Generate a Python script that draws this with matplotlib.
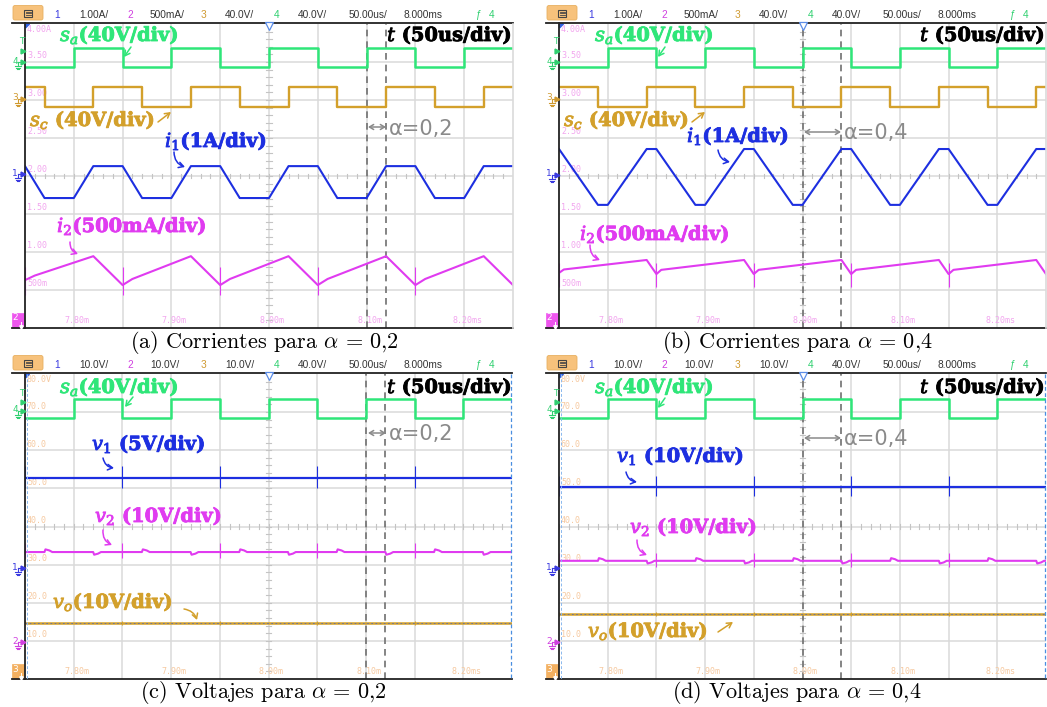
import matplotlib
matplotlib.use("Agg")
import matplotlib.pyplot as plt
import matplotlib.patheffects as pe
from matplotlib.patches import FancyBboxPatch, Rectangle

plt.rcParams["mathtext.fontset"] = "cm"

W, H = 1047, 707

# ---------------- time base: 50 us/div, centred on 8.000 ms ----------------
T_START, T_END = -250, 250
TIME_LABEL_T = [-200, -100, 0, 100, 200]
TIME_LABELS = ["7.80m", "7.90m", "8.00m", "8.10m", "8.20ms"]
TIMEBASE = "50.00us/"
DELAY = "8.000ms"

# on-screen scale read-outs (selected channel)
CURRENT_SCALE = ["4.00A", "3.50", "3.00", "2.50", "2.00", "1.50", "1.00", "500m"]
VOLTAGE_SCALE = ["80.0V", "70.0", "60.0", "50.0", "40.0", "30.0", "20.0", "10.0"]
HEADER_CURRENTS = ["1.00A/", "500mA/", "40.0V/", "40.0V/"]
HEADER_VOLTAGES = ["10.0V/", "10.0V/", "10.0V/", "40.0V/"]

# ---------------- switching edges (us) ----------------
SA_RISE = [-200, -100, 0, 100, 200]
SA_FALL = [-150, -50, 50, 150]
SC_RISE_02 = [-180, -80, 20, 120, 220]
SC_FALL_02 = [-230, -130, -30, 70, 170]
SC_RISE_04 = [-160, -60, 40, 140, 240]
SC_FALL_04 = [-210, -110, -10, 90, 190]
SPIKE_T = [-250, -150, -50, 50, 150]

# gate levels in screen divisions (low, high)
SA_LEVELS_I = (6.87, 7.37)
SC_LEVELS_I = (5.82, 6.34)
SA_LEVELS_V = (6.85, 7.35)

# ---------------- currents (screen divisions) ----------------
I1_02_T = [-250, -230, -200, -180, -150, -130, -100, -80, -50, -30, 0, 20,
           50, 70, 100, 120, 150, 170, 200, 220, 250]
I1_02_Y = [4.26, 3.42, 3.42, 4.26, 4.26, 3.42, 3.42, 4.26, 4.26, 3.42, 3.42,
           4.26, 4.26, 3.42, 3.42, 4.26, 4.26, 3.42, 3.42, 4.26, 4.26]
I1_04_T = [-250, -210, -200, -160, -150, -110, -100, -60, -50, -10, 0, 40,
           50, 90, 100, 140, 150, 190, 200, 240, 250]
I1_04_Y = [4.71, 3.24, 3.24, 4.71, 4.71, 3.24, 3.24, 4.71, 4.71, 3.24, 3.24,
           4.71, 4.71, 3.24, 3.24, 4.71, 4.71, 3.24, 3.24, 4.71, 4.71]

I2_02_T = [-250, -240, -180, -150, -140, -80, -50, -40, 20, 50, 60, 120,
           150, 160, 220, 250]
I2_02_Y = [1.26, 1.38, 1.89, 1.13, 1.29, 1.89, 1.13, 1.29, 1.89, 1.13, 1.29,
           1.89, 1.13, 1.29, 1.89, 1.13]
I2_04_T = [-250, -245, -160, -150, -145, -60, -50, -45, 40, 50, 55, 140,
           150, 155, 240, 250]
I2_04_Y = [1.45, 1.54, 1.79, 1.42, 1.53, 1.79, 1.42, 1.53, 1.79, 1.42, 1.53,
           1.79, 1.42, 1.53, 1.79, 1.42]
I2_SPIKE_02 = (0.87, 1.60)
I2_SPIKE_04 = (1.08, 1.70)

# ---------------- voltages (screen divisions) ----------------
V1_02, V1_SPIKE_02 = 5.28, (5.00, 5.58)
V1_04, V1_SPIKE_04 = 5.04, (4.80, 5.32)
V2_02, V2_SPIKE_02 = 3.33, (3.18, 3.57)
V2_04, V2_SPIKE_04 = 3.10, (2.94, 3.31)
V2_BUMP = 0.07
VO_02 = 1.47
VO_04 = 1.71

# colours
GREEN = "#2fe679"
GOLD = "#d3a02b"
BLUE = "#1d2fe0"
MAGENTA = "#e03bf0"
GRID = "#dadada"
TICK = "#c4c4c4"
DASH = "#707070"
PINK_TXT = "#f2a6ef"
ORANGE_TXT = "#f6c9a0"
CH_BLUE, CH_MAG, CH_GOLD, CH_GREEN = "#3a3ae0", "#d040e0", "#d09a30", "#30d070"

BOX_A = (25, 24, 513, 328)
BOX_B = (559, 24, 1046, 328)
BOX_C = (25, 374, 512, 679)
BOX_D = (559, 374, 1046, 679)

fig = plt.figure(figsize=(W / 100, H / 100), dpi=100)
fig.patch.set_facecolor("white")


def gate_knots(rise, fall, levels):
    lo, hi = levels
    events = sorted([(t, hi) for t in rise] + [(t, lo) for t in fall])
    cur = lo if events[0][1] == hi else hi
    ts, ys = [T_START], [cur]
    for t, lvl in events:
        ts += [t, t]
        ys += [cur, lvl]
        cur = lvl
    ts.append(T_END)
    ys.append(cur)
    return ts, ys


def bump_knots(base, up, down, amp):
    events = sorted([(t, amp) for t in up] + [(t, -amp) for t in down])
    ts, ys = [T_START], [base]
    for t, a in events:
        ts += [t, t + 1, t + 5, t + 8]
        ys += [base, base + a, base + 0.6 * a, base]
    ts.append(T_END)
    ys.append(base)
    return ts, ys


def scope_axes(box, scale_labels, label_color):
    x0, y0, x1, y1 = box
    ax = fig.add_axes([x0 / W, 1 - y1 / H, (x1 - x0) / W, (y1 - y0) / H])
    ax.set_xlim(T_START, T_END)
    ax.set_ylim(0, 8)
    ax.set_axis_off()
    for k in range(1, 10):
        ax.axvline(T_START + 50 * k, color=GRID, lw=1.1, zorder=0)
    for k in range(1, 8):
        ax.axhline(k, color=GRID, lw=1.1, zorder=0)
    for t in range(T_START, T_END + 1, 10):
        ax.plot([t, t], [3.94, 4.06], color=TICK, lw=0.8, zorder=0)
    for k in range(41):
        ax.plot([-3, 3], [k * 0.2, k * 0.2], color=TICK, lw=0.8, zorder=0)
    for k, lab in enumerate(scale_labels):
        if k == 0:
            ax.text(T_START + 2, 7.97, lab, color=label_color, fontsize=6,
                    family="DejaVu Sans Mono", ha="left", va="top")
        else:
            ax.text(T_START + 2, 8 - k + 0.04, lab, color=label_color,
                    fontsize=6, family="DejaVu Sans Mono", ha="left",
                    va="bottom")
    for t, lab in zip(TIME_LABEL_T, TIME_LABELS):
        ax.text(t + 3, 0.2, lab, color=label_color, fontsize=6,
                family="DejaVu Sans Mono", ha="center", va="center")
    return ax


def alpha_cursors(ax, t_a, t_b):
    for t in (t_a, t_b):
        ax.axvline(t, color=DASH, lw=1.2, dashes=(4, 3), zorder=2)


# ---------------- (a) currents, alpha = 0.2 ----------------
ax = scope_axes(BOX_A, CURRENT_SCALE, PINK_TXT)
alpha_cursors(ax, 100, 120)
ax.plot(*gate_knots(SA_RISE, SA_FALL, SA_LEVELS_I), color=GREEN, lw=1.8, zorder=3)
ax.plot(*gate_knots(SC_RISE_02, SC_FALL_02, SC_LEVELS_I), color=GOLD, lw=1.7, zorder=3)
ax.plot(I1_02_T, I1_02_Y, color=BLUE, lw=1.5, zorder=3)
ax.plot(I2_02_T, I2_02_Y, color=MAGENTA, lw=1.5, zorder=3)
ax.vlines(SPIKE_T, *I2_SPIKE_02, color=MAGENTA, lw=0.8, zorder=3)

# ---------------- (b) currents, alpha = 0.4 ----------------
ax = scope_axes(BOX_B, CURRENT_SCALE, PINK_TXT)
alpha_cursors(ax, 0, 40)
ax.plot(*gate_knots(SA_RISE, SA_FALL, SA_LEVELS_I), color=GREEN, lw=1.8, zorder=3)
ax.plot(*gate_knots(SC_RISE_04, SC_FALL_04, SC_LEVELS_I), color=GOLD, lw=1.7, zorder=3)
ax.plot(I1_04_T, I1_04_Y, color=BLUE, lw=1.5, zorder=3)
ax.plot(I2_04_T, I2_04_Y, color=MAGENTA, lw=1.5, zorder=3)
ax.vlines(SPIKE_T, *I2_SPIKE_04, color=MAGENTA, lw=0.8, zorder=3)

# ---------------- (c) voltages, alpha = 0.2 ----------------
ax = scope_axes(BOX_C, VOLTAGE_SCALE, ORANGE_TXT)
alpha_cursors(ax, 100, 120)
ax.plot(*gate_knots(SA_RISE, SA_FALL, SA_LEVELS_V), color=GREEN, lw=1.8, zorder=3)
ax.axhline(V1_02, color=BLUE, lw=1.6, zorder=3)
ax.vlines(SPIKE_T, *V1_SPIKE_02, color=BLUE, lw=0.8, zorder=3)
ax.plot(*bump_knots(V2_02, SC_FALL_02, SC_RISE_02, V2_BUMP), color=MAGENTA, lw=1.5, zorder=3)
ax.vlines(SPIKE_T, *V2_SPIKE_02, color=MAGENTA, lw=0.8, zorder=3)
ax.axhline(VO_02, color=GOLD, lw=1.8, zorder=3)
ax.axhline(VO_02, color="#3a5fd0", lw=0.6, dashes=(2, 3), alpha=0.8, zorder=3)
ax.vlines(SPIKE_T, VO_02 - 0.06, VO_02 + 0.06, color=GOLD, lw=0.8, zorder=3)

# ---------------- (d) voltages, alpha = 0.4 ----------------
ax = scope_axes(BOX_D, VOLTAGE_SCALE, ORANGE_TXT)
alpha_cursors(ax, 0, 40)
ax.plot(*gate_knots(SA_RISE, SA_FALL, SA_LEVELS_V), color=GREEN, lw=1.8, zorder=3)
ax.axhline(V1_04, color=BLUE, lw=1.6, zorder=3)
ax.vlines(SPIKE_T, *V1_SPIKE_04, color=BLUE, lw=0.8, zorder=3)
ax.plot(*bump_knots(V2_04, SC_FALL_04, SC_RISE_04, V2_BUMP), color=MAGENTA, lw=1.5, zorder=3)
ax.vlines(SPIKE_T, *V2_SPIKE_04, color=MAGENTA, lw=0.8, zorder=3)
ax.axhline(VO_04, color=GOLD, lw=1.8, zorder=3)
ax.axhline(VO_04, color="#3a5fd0", lw=0.6, dashes=(2, 3), alpha=0.8, zorder=3)
ax.vlines(SPIKE_T, VO_04 - 0.06, VO_04 + 0.06, color=GOLD, lw=0.8, zorder=3)

# ---------------- overlay in pixel coordinates ----------------
ov = fig.add_axes([0, 0, 1, 1], zorder=10)
ov.set_xlim(0, W)
ov.set_ylim(H, 0)
ov.set_axis_off()
ov.patch.set_visible(False)


def header_at(box, scales, y):
    x0 = box[0]
    items = [(32, "1", CH_BLUE, "center"), (54, scales[0], "#333333", "left"),
             (105, "2", CH_MAG, "center"), (125, scales[1], "#333333", "left"),
             (178, "3", CH_GOLD, "center"), (200, scales[2], "#333333", "left"),
             (252, "4", CH_GREEN, "center"), (273, scales[3], "#333333", "left"),
             (324, TIMEBASE, "#333333", "left"), (378, DELAY, "#333333", "left"),
             (453, "ƒ", CH_GREEN, "center"), (467, "4", CH_GREEN, "center")]
    for dx, txt, col, ha in items:
        ov.text(x0 + dx, y, txt, color=col, fontsize=7.3,
                family="Liberation Sans", ha=ha, va="center")


def menu_at(box, y):
    x0 = box[0]
    ov.add_patch(FancyBboxPatch((x0 - 12, y - 9.5), 30, 14.5,
                                boxstyle="round,pad=0,rounding_size=2",
                                fc="#f7c27c", ec="#e8b060", lw=0.6))
    ov.add_patch(Rectangle((x0 - 1, y - 5.5), 8, 7, fc="none", ec="#444444", lw=0.8))
    for yy in (y - 3.5, y - 1.7, y):
        ov.plot([x0 + 0.5, x0 + 5.5], [yy, yy], color="#444444", lw=0.6)


def frame_at(box, dashed_edges, menu_y):
    x0, y0, x1, y1 = box
    ov.plot([x0 - 13, x1], [y0 - 1, y0 - 1], color="#222222", lw=1.3)
    ov.plot([x0 - 13, x1], [y1, y1], color="#222222", lw=1.3)
    ov.plot([x0, x0], [y0 - 1, y1], color="#222222", lw=1.3)
    if dashed_edges:
        ov.plot([x1 - 1, x1 - 1], [y0, y1], color="#4a8fe0", lw=0.9, dashes=(3, 2))
        ov.plot([x0 + 1.5, x0 + 1.5], [y0, y1], color="#8ab8ee", lw=0.7, dashes=(3, 2))
    else:
        ov.plot([x1 - 0.5, x1 - 0.5], [y0, y1], color=GRID, lw=1.2)
    menu_at(box, menu_y)
    ov.fill([x0 + 0.5, x0 + 4.5, x0 + 0.5], [y0, y0, y0 + 4], color="#3060e0")
    cx = (x0 + x1) / 2
    ov.plot([cx], [y0 + 2.2], marker="v", ms=5.5, mfc="white", mec="#5b8de8", mew=0.9)


def ground_marker(x0, y, label, color):
    ov.text(x0 - 10, y - 1, label, color=color, fontsize=6.5,
            family="DejaVu Sans", ha="center", va="center")
    ov.plot([x0 - 2.5], [y], marker=">", ms=3.5, color=color, mec=color)
    ov.plot([x0 - 7, x0 - 3], [y, y], color=color, lw=0.8)
    ov.plot([x0 - 7, x0 - 7], [y, y + 4], color=color, lw=0.8)
    for i, hw in enumerate([3.2, 2.1, 1.0]):
        ov.plot([x0 - 7 - hw, x0 - 7 + hw], [y + 4 + 1.6 * i] * 2,
                color=color, lw=0.8)


def trigger_marker(x0, y):
    ov.text(x0 - 3, y, "T", color=CH_GREEN, fontsize=6.5, family="DejaVu Sans",
            ha="center", va="center")
    ov.plot([x0 - 2.5], [y + 9], marker=">", ms=3.5, color=CH_GREEN)


def channel_box(x0, y1, label, color):
    ov.add_patch(Rectangle((x0 - 13, y1 - 15), 12, 15, fc=color, ec=color, lw=0.5))
    ov.text(x0 - 10, y1 - 10, label, color="white", fontsize=6.5,
            family="DejaVu Sans", ha="center", va="center")
    ov.plot([x0 - 4, x0 - 4], [y1 - 6, y1 - 1], color="white", lw=0.7)
    ov.plot([x0 - 4], [y1 - 1.5], marker="v", ms=2.5, color="white")


for box, scales, dashed, menu_y in [(BOX_A, HEADER_CURRENTS, False, 15),
                                    (BOX_B, HEADER_CURRENTS, False, 15),
                                    (BOX_C, HEADER_VOLTAGES, True, 365),
                                    (BOX_D, HEADER_VOLTAGES, True, 365)]:
    frame_at(box, dashed, menu_y)
    header_at(box, scales, menu_y)

# channel reference markers
for box, y1_mark in [(BOX_A, 174), (BOX_B, 175)]:
    x0 = box[0]
    trigger_marker(x0, 42)
    ground_marker(x0, 62, "4", CH_GREEN)
    ground_marker(x0, 99, "3", CH_GOLD)
    ground_marker(x0, y1_mark, "1", CH_BLUE)
    channel_box(x0, box[3], "2", "#ee55ee")
for box in (BOX_C, BOX_D):
    x0 = box[0]
    trigger_marker(x0, 393)
    ground_marker(x0, 411, "4", CH_GREEN)
    ground_marker(x0, 568, "1", CH_BLUE)
    ground_marker(x0, 642, "2", CH_MAG)
    channel_box(x0, box[3], "3", "#f3b060")


# ---------------- trace labels ----------------
def label(x, y, s, color, ha="left"):
    ov.text(x, y, s, color=color, fontsize=14, family="DejaVu Serif",
            weight="bold", math_fontfamily="dejavuserif", ha=ha,
            va="baseline",
            path_effects=[pe.withStroke(linewidth=0.6, foreground=color)])


def pointer(x_from, y_from, x_to, y_to, color, rad=0.0):
    ov.annotate("", xy=(x_to, y_to), xytext=(x_from, y_from),
                arrowprops=dict(arrowstyle="->,head_length=0.35,head_width=0.2",
                                color=color, lw=1.1, shrinkA=0, shrinkB=0,
                                connectionstyle=f"arc3,rad={rad}"))


def alpha_note(x_a, x_b, y, text, base):
    ov.annotate("", xy=(x_a + 1, y), xytext=(x_b - 1, y),
                arrowprops=dict(arrowstyle="<->,head_length=0.3,head_width=0.18",
                                color="#8a8a8a", lw=1.1, shrinkA=0, shrinkB=0))
    ov.text(x_b + 2, base, text, color="#8a8a8a", fontsize=15,
            family="DejaVu Sans", ha="left", va="baseline")


# (a)
label(60, 41, r"$s_a$(40V/div)", GREEN)
pointer(131, 47, 124, 57, GREEN)
label(512, 41, r"$t$ (50us/div)", "black", ha="right")
label(30, 126, r"$s_c$ (40V/div)", GOLD)
pointer(158, 122, 171, 112, GOLD)
label(165, 147, r"$i_1$(1A/div)", BLUE)
pointer(174, 152, 185, 167, BLUE, rad=0.35)
label(57, 232, r"$i_2$(500mA/div)", MAGENTA)
pointer(70, 242, 78, 254, MAGENTA, rad=0.35)
alpha_note(367, 387, 127, "α=0,2", 135)

# (b)
label(595, 41, r"$s_a$(40V/div)", GREEN)
pointer(665, 47, 658, 57, GREEN)
label(1045, 41, r"$t$ (50us/div)", "black", ha="right")
label(564, 126, r"$s_c$ (40V/div)", GOLD)
pointer(692, 122, 705, 112, GOLD)
label(687, 142, r"$i_1$(1A/div)", BLUE)
pointer(718, 150, 730, 162, BLUE, rad=0.35)
label(580, 240, r"$i_2$(500mA/div)", MAGENTA)
pointer(590, 245, 600, 260, MAGENTA, rad=0.35)
alpha_note(803, 842, 132, "α=0,4", 139)

# (c)
label(60, 393, r"$s_a$(40V/div)", GREEN)
pointer(133, 397, 125, 407, GREEN)
label(512, 393, r"$t$ (50us/div)", "black", ha="right")
label(92, 450, r"$v_1$ (5V/div)", BLUE)
pointer(103, 458, 114, 468, BLUE, rad=0.35)
label(95, 522, r"$v_2$ (10V/div)", MAGENTA)
pointer(103, 530, 112, 545, MAGENTA, rad=0.35)
label(53, 608, r"$v_o$(10V/div)", GOLD)
pointer(184, 609, 197, 620, GOLD, rad=-0.3)
alpha_note(367, 387, 433, "α=0,2", 440)

# (d)
label(595, 393, r"$s_a$(40V/div)", GREEN)
pointer(665, 398, 658, 408, GREEN)
label(1045, 393, r"$t$ (50us/div)", "black", ha="right")
label(617, 462, r"$v_1$ (10V/div)", BLUE)
pointer(626, 472, 637, 482, BLUE, rad=0.35)
label(630, 533, r"$v_2$ (10V/div)", MAGENTA)
pointer(637, 540, 647, 555, MAGENTA, rad=0.35)
label(588, 637, r"$v_o$(10V/div)", GOLD)
pointer(718, 632, 733, 622, GOLD)
alpha_note(803, 842, 438, "α=0,4", 445)

# ---------------- sub-figure captions ----------------
CAPTIONS = [(264, 342, r"(a) Corrientes para $\alpha\,=\,0{,}2$"),
            (797, 342, r"(b) Corrientes para $\alpha\,=\,0{,}4$"),
            (263, 693, r"(c) Voltajes para $\alpha\,=\,0{,}2$"),
            (797, 693, r"(d) Voltajes para $\alpha\,=\,0{,}4$")]
for cx, cy, txt in CAPTIONS:
    ov.text(cx, cy, txt, color="black", fontsize=16, family="cmr10",
            ha="center", va="center")

fig.savefig("out.png", dpi=100, facecolor="white")
